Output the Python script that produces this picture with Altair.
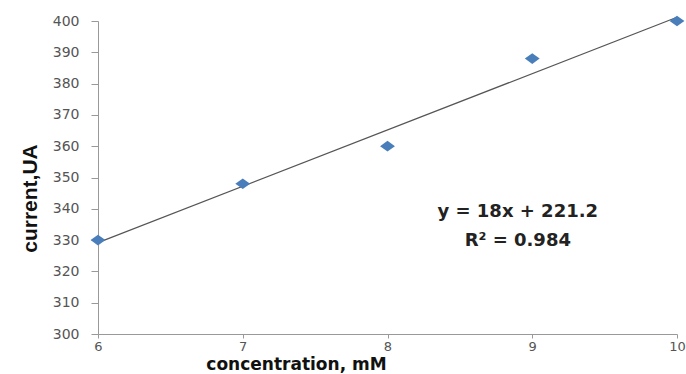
import altair as alt
import pandas as pd

concentration = [6, 7, 8, 9, 10]
current = [330, 348, 360, 388, 400]

eq_lines = ["y = 18x + 221.2", "R² = 0.984"]
eq_x = [8.9, 8.9]
eq_y = [339, 329.7]

df = pd.DataFrame({"x": concentration, "y": current})
tdf = pd.DataFrame({"x": eq_x, "y": eq_y, "t": eq_lines})

xs = alt.Scale(domain=[6, 10], nice=False, zero=False)
ys = alt.Scale(domain=[300, 400], nice=False, zero=False)

xaxis = alt.Axis(
    values=[6, 7, 8, 9, 10], format="d", grid=False, title="concentration, mM",
    titleFont="DejaVu Sans", titleFontSize=17, titleFontWeight="bold", titleColor="#111",
    titleX=198, titleY=35, titleBaseline="alphabetic", titleAnchor="middle", titleAlign="center",
    labelFont="DejaVu Sans", labelFontSize=13, labelColor="#555", labelPadding=2,
    labelOverlap=False, labelBound=False, labelFlush=False,
    domainColor="#999", tickColor="#999", tickSize=4,
)
yaxis = alt.Axis(
    values=list(range(300, 401, 10)), format="d", grid=False, title="current,UA",
    titleFont="Liberation Sans", titleFontSize=21, titleFontWeight="bold", titleColor="#111",
    titleX=-62, titleY=177, titleBaseline="alphabetic", titleAngle=-90, titleAlign="center",
    labelFont="DejaVu Sans", labelFontSize=14, labelColor="#555", labelPadding=12,
    labelOverlap=False, labelBound=False, labelFlush=False,
    domainColor="#999", tickColor="#999", tickSize=7,
)

X = alt.X("x:Q", scale=xs, axis=xaxis)
Y = alt.Y("y:Q", scale=ys, axis=yaxis)

base = alt.Chart(df)

trend = base.transform_regression("x", "y", method="linear", extent=[6, 10]).mark_line(
    color="#555", strokeWidth=1.2
).encode(x=X, y=Y)

pts = base.mark_point(
    shape="M-1,0L0,-0.72L1,0L0,0.72Z", filled=True, size=220, color="#4a7ebb", opacity=1
).encode(x=X, y=Y)

txt = alt.Chart(tdf).mark_text(
    font="DejaVu Sans", fontSize=18, fontWeight="bold", color="#222", align="center", baseline="middle"
).encode(x=X, y=Y, text="t:N")

chart = alt.layer(trend, pts, txt).properties(
    width=579, height=313,
    autosize=alt.AutoSizeParams(type="none"),
    padding={"left": 98, "top": 21, "right": 9, "bottom": 40},
    background="white",
).configure_view(stroke=None)

chart.save("out.html", embed_options={"renderer": "svg", "actions": False})
